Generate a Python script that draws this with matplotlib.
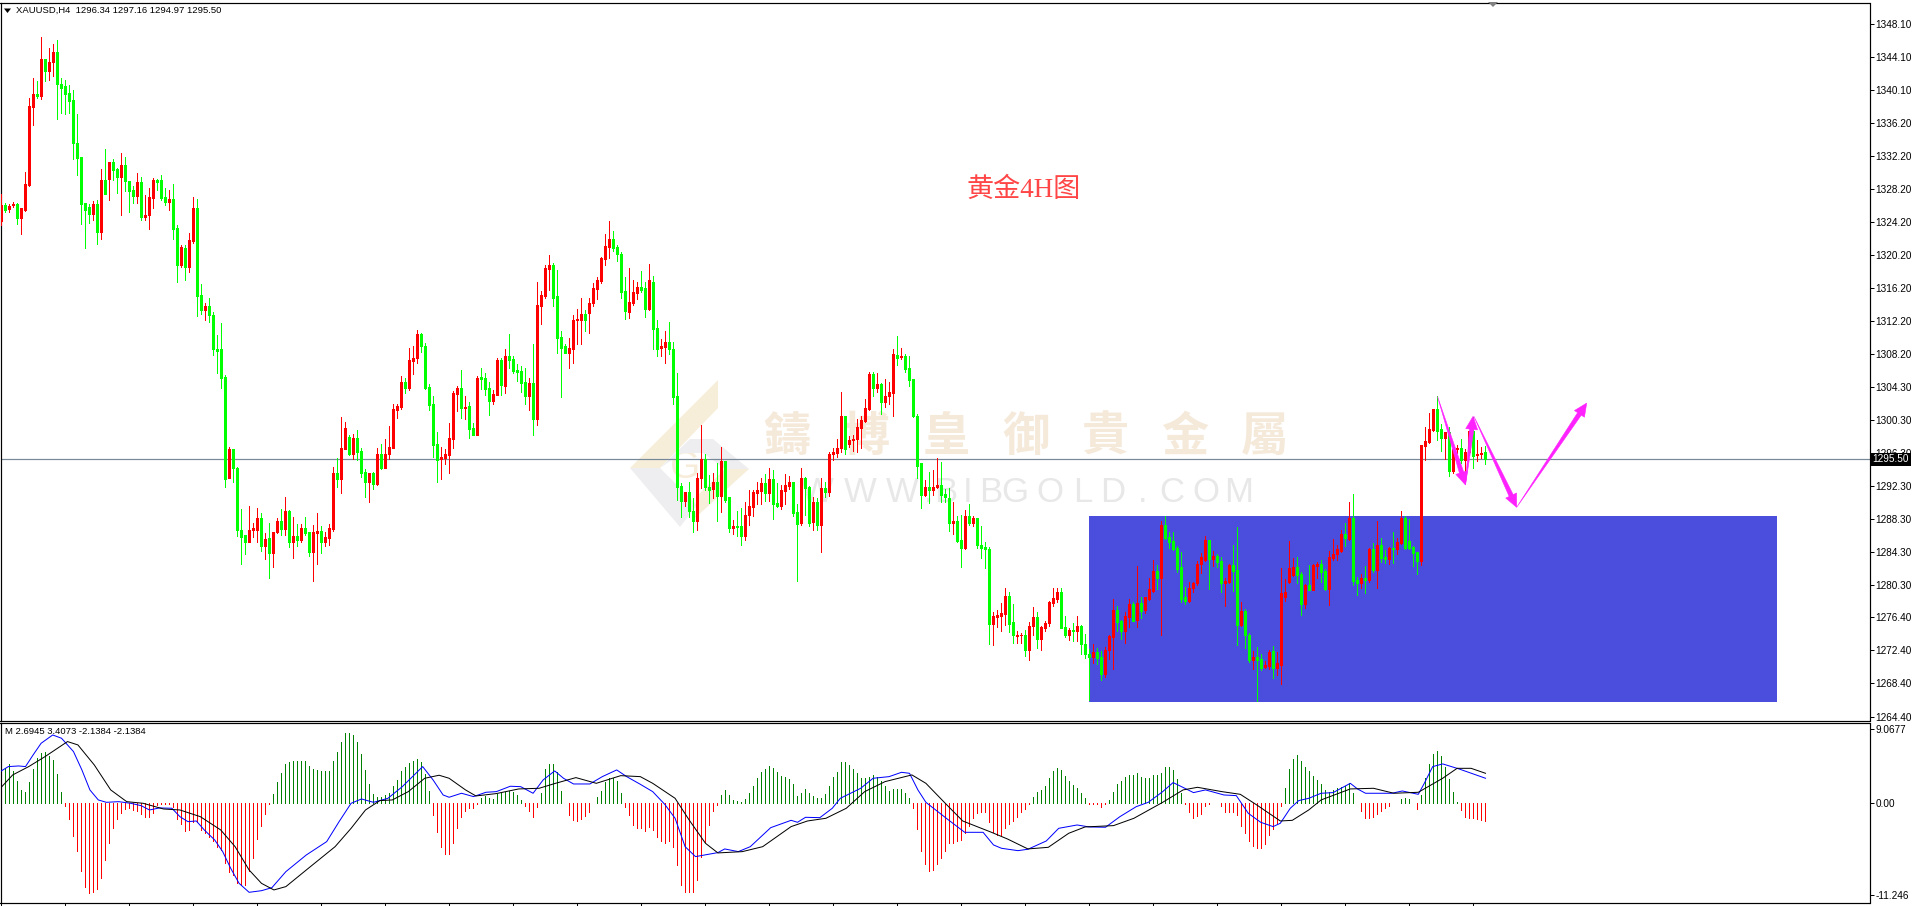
import matplotlib
matplotlib.use('Agg')
import matplotlib.pyplot as plt
from matplotlib.patches import Polygon, Rectangle
from matplotlib.transforms import IdentityTransform
import numpy as np

W, H = 1916, 906

# XAUUSD H4, values
opens = [
    1324.3, 1326.2, 1325.8, 1326.2, 1326.4, 1324.7, 1325.7, 1328.7, 1338.1, 1339.7,
    1339.4, 1343.9, 1342.4, 1343.5, 1344.7, 1340.9, 1340.6, 1339.8, 1338.9, 1333.8,
    1332.0, 1326.5, 1326.0, 1325.2, 1326.4, 1323.0, 1329.3, 1329.4, 1331.4, 1330.6,
    1329.6, 1331.1, 1329.2, 1328.1, 1327.4, 1329.0, 1324.8, 1325.0, 1327.1, 1329.3,
    1329.3, 1327.2, 1326.6, 1327.0, 1323.5, 1319.0, 1321.1, 1318.8, 1321.9, 1325.9,
    1315.4, 1313.5, 1314.1, 1313.0, 1308.9, 1308.8, 1305.4, 1293.3, 1296.8, 1294.5,
    1287.0, 1286.3, 1285.5, 1287.0, 1287.0, 1288.4, 1285.0, 1286.0, 1284.2, 1286.7,
    1288.0, 1287.1, 1289.2, 1285.5, 1286.2, 1285.8, 1287.2, 1286.7, 1284.3, 1286.6,
    1286.8, 1285.5, 1286.0, 1287.1, 1293.8, 1293.1, 1296.8, 1298.2, 1296.2, 1298.1,
    1296.5, 1294.0, 1292.8, 1293.8, 1292.5, 1296.2, 1294.5, 1296.1, 1296.9, 1301.5,
    1301.8, 1304.8, 1304.1, 1307.4, 1307.7, 1310.6, 1309.2, 1304.2, 1302.2, 1297.3,
    1295.5, 1295.7, 1296.0, 1298.0, 1303.4, 1304.1, 1301.7, 1301.9, 1299.3, 1298.5,
    1305.4, 1305.3, 1304.1, 1302.6, 1303.3, 1307.5, 1304.4, 1308.0, 1307.6, 1306.3,
    1306.2, 1304.8, 1303.2, 1304.7, 1300.4, 1314.1, 1315.3, 1318.5, 1319.0, 1315.2,
    1310.3, 1309.2, 1308.3, 1308.9, 1312.4, 1312.4, 1313.1, 1313.2, 1314.4, 1316.1,
    1317.1, 1319.7, 1321.2, 1322.1, 1321.2, 1320.3, 1315.8, 1313.3, 1314.4, 1315.6,
    1316.3, 1316.2, 1313.7, 1317.0, 1311.4, 1309.0, 1309.1, 1309.7, 1308.9, 1303.1,
    1292.3, 1290.5, 1291.5, 1289.3, 1288.0, 1293.2, 1295.5, 1292.1, 1291.9, 1292.7,
    1291.1, 1295.3, 1290.9, 1287.2, 1287.4, 1287.4, 1286.2, 1288.8, 1289.7, 1291.4,
    1291.7, 1292.6, 1291.4, 1293.1, 1290.2, 1289.9, 1291.7, 1292.3, 1292.7, 1289.1,
    1287.8, 1293.2, 1292.2, 1287.9, 1290.3, 1287.5, 1292.0, 1291.5, 1296.1, 1296.3,
    1296.9, 1300.8, 1297.4, 1297.8, 1297.9, 1299.3, 1300.1, 1301.6, 1305.8, 1304.1,
    1304.6, 1302.4, 1303.2, 1303.5, 1308.1, 1307.9, 1308.0, 1306.5, 1305.2, 1300.8,
    1295.0, 1291.2, 1292.2, 1291.8, 1292.1, 1292.4, 1291.3, 1290.8, 1287.8, 1288.1,
    1285.7, 1284.8, 1288.6, 1287.8, 1288.4, 1285.2, 1284.9, 1284.6, 1275.6, 1276.4,
    1276.6, 1276.8, 1279.0, 1275.8, 1274.1, 1274.2, 1274.3, 1272.5, 1275.3, 1276.4,
    1273.8, 1275.1, 1275.7, 1278.1, 1278.6, 1279.4, 1275.2, 1274.3, 1274.9, 1274.7,
    1275.3, 1273.2, 1272.0, 1271.6, 1272.2, 1271.6, 1269.6, 1272.4, 1274.0, 1277.3,
    1275.9, 1274.7, 1276.4, 1278.0, 1276.1, 1278.1, 1277.3, 1278.6, 1279.6, 1282.0,
    1281.2, 1287.5, 1286.1, 1285.6, 1284.8, 1282.5, 1278.9, 1278.4, 1279.9, 1280.5,
    1282.8, 1283.3, 1285.8, 1283.4, 1283.8, 1283.2, 1280.6, 1280.7, 1282.7, 1282.1,
    1275.5, 1277.2, 1274.3, 1271.2, 1271.6, 1271.4, 1270.4, 1270.5, 1272.3, 1270.3,
    1270.6, 1278.8, 1280.7, 1281.5, 1282.5, 1281.6, 1278.0, 1280.3, 1279.7, 1282.6,
    1282.8, 1282.0, 1279.8, 1283.6, 1284.0, 1284.4, 1286.5, 1285.9, 1288.4, 1280.9,
    1280.5, 1281.1, 1280.9, 1284.7, 1282.1, 1285.1, 1283.7, 1283.4, 1284.8, 1284.6,
    1285.4, 1288.4, 1285.6, 1284.9, 1284.3, 1283.2, 1297.1, 1297.6, 1299.1, 1301.6,
    1299.2, 1298.1, 1298.8, 1294.1, 1296.7, 1296.9, 1295.4, 1296.4, 1298.9, 1296.0,
    1296.1, 1296.34,
]
highs = [
    1327.6, 1326.5, 1326.4, 1326.6, 1326.5, 1325.9, 1330.3, 1339.2, 1341.6, 1341.2,
    1346.6, 1343.9, 1345.2, 1345.7, 1346.2, 1341.6, 1341.4, 1340.8, 1340.2, 1337.2,
    1332.0, 1326.5, 1326.4, 1326.7, 1326.8, 1330.6, 1333.0, 1331.4, 1331.8, 1330.7,
    1332.5, 1332.0, 1329.2, 1328.6, 1330.1, 1329.6, 1327.5, 1328.3, 1329.5, 1329.4,
    1329.9, 1328.3, 1328.1, 1328.8, 1323.8, 1321.4, 1321.4, 1322.9, 1327.2, 1327.0,
    1316.7, 1314.4, 1315.0, 1313.3, 1310.5, 1312.0, 1305.7, 1297.0, 1296.8, 1294.6,
    1289.5, 1286.3, 1289.8, 1287.8, 1289.6, 1289.0, 1286.6, 1287.8, 1286.7, 1288.4,
    1289.5, 1290.9, 1289.4, 1288.5, 1287.7, 1287.7, 1288.5, 1286.7, 1287.6, 1289.0,
    1287.4, 1286.7, 1287.7, 1294.6, 1295.7, 1300.6, 1300.0, 1298.4, 1298.6, 1299.0,
    1296.9, 1294.3, 1293.8, 1294.0, 1296.9, 1297.4, 1297.9, 1299.5, 1302.2, 1302.2,
    1305.6, 1305.3, 1309.0, 1309.2, 1311.1, 1310.8, 1309.6, 1304.6, 1303.2, 1298.8,
    1297.0, 1296.7, 1299.9, 1303.8, 1304.4, 1306.3, 1303.2, 1302.4, 1299.9, 1305.6,
    1306.6, 1305.9, 1304.8, 1303.9, 1307.7, 1307.7, 1308.8, 1310.7, 1308.0, 1307.0,
    1306.8, 1306.5, 1305.3, 1309.5, 1317.0, 1315.8, 1319.0, 1320.2, 1319.3, 1318.4,
    1311.0, 1309.5, 1310.2, 1312.9, 1313.7, 1315.0, 1313.5, 1315.0, 1316.8, 1317.6,
    1320.0, 1322.8, 1324.3, 1323.1, 1321.4, 1320.6, 1317.5, 1318.6, 1317.2, 1317.0,
    1318.3, 1317.0, 1319.1, 1317.7, 1312.4, 1310.1, 1311.0, 1312.1, 1309.7, 1305.9,
    1292.6, 1291.6, 1292.7, 1290.8, 1293.8, 1299.7, 1296.2, 1293.6, 1293.9, 1295.0,
    1297.0, 1295.3, 1290.9, 1288.2, 1289.2, 1289.6, 1290.4, 1291.8, 1291.8, 1292.8,
    1293.3, 1293.7, 1294.5, 1294.2, 1292.6, 1292.4, 1293.7, 1293.5, 1292.7, 1290.1,
    1294.4, 1293.4, 1292.3, 1290.9, 1290.8, 1293.2, 1292.8, 1296.4, 1296.9, 1298.0,
    1303.6, 1300.8, 1298.3, 1298.4, 1300.4, 1300.7, 1302.8, 1306.0, 1306.0, 1305.9,
    1304.7, 1305.2, 1304.8, 1308.9, 1310.4, 1309.0, 1308.2, 1308.0, 1305.2, 1301.0,
    1295.0, 1293.0, 1294.0, 1294.2, 1295.7, 1295.2, 1291.9, 1292.0, 1290.4, 1288.7,
    1288.8, 1289.4, 1290.1, 1288.7, 1288.4, 1287.4, 1285.5, 1284.9, 1277.1, 1277.3,
    1278.1, 1279.9, 1279.4, 1278.0, 1274.8, 1274.5, 1274.9, 1275.8, 1277.7, 1277.1,
    1275.4, 1275.9, 1278.4, 1279.9, 1279.9, 1279.9, 1276.5, 1275.1, 1275.7, 1276.6,
    1275.5, 1274.4, 1272.6, 1273.2, 1272.7, 1272.3, 1272.8, 1274.3, 1278.6, 1277.8,
    1276.1, 1277.0, 1278.6, 1278.2, 1282.6, 1278.8, 1278.9, 1281.1, 1283.3, 1282.7,
    1288.1, 1288.7, 1286.7, 1286.7, 1285.0, 1284.3, 1280.1, 1280.7, 1280.7, 1283.2,
    1284.2, 1286.2, 1285.8, 1284.4, 1284.0, 1283.7, 1281.2, 1282.9, 1285.2, 1287.3,
    1278.2, 1277.4, 1274.5, 1272.3, 1272.8, 1272.0, 1271.1, 1272.4, 1272.9, 1272.2,
    1282.4, 1281.0, 1285.6, 1283.6, 1283.7, 1281.9, 1280.4, 1282.7, 1282.8, 1283.1,
    1283.3, 1282.2, 1284.4, 1285.9, 1285.1, 1287.0, 1287.8, 1290.3, 1291.3, 1281.3,
    1281.6, 1282.6, 1284.8, 1285.4, 1288.0, 1286.0, 1284.5, 1284.9, 1286.7, 1286.0,
    1289.2, 1288.6, 1288.3, 1285.0, 1284.3, 1297.2, 1299.4, 1301.1, 1301.6, 1303.2,
    1299.8, 1298.8, 1299.4, 1296.7, 1297.2, 1298.0, 1296.7, 1298.9, 1300.6, 1297.8,
    1297.0, 1297.16,
]
lows = [
    1323.8, 1325.4, 1325.4, 1326.0, 1324.0, 1322.8, 1325.5, 1328.5, 1335.9, 1339.2,
    1339.1, 1341.2, 1341.4, 1341.9, 1336.7, 1337.4, 1337.3, 1337.4, 1331.8, 1329.9,
    1324.0, 1321.1, 1324.1, 1324.4, 1321.5, 1322.1, 1327.6, 1326.8, 1329.3, 1327.7,
    1325.1, 1328.0, 1325.4, 1326.5, 1326.5, 1324.5, 1324.5, 1323.4, 1325.9, 1328.1,
    1326.9, 1326.3, 1325.6, 1322.1, 1316.9, 1318.8, 1317.2, 1318.1, 1321.7, 1312.8,
    1313.1, 1312.4, 1312.1, 1308.1, 1305.9, 1304.1, 1292.1, 1293.3, 1292.8, 1286.2,
    1282.8, 1284.0, 1285.5, 1286.1, 1285.5, 1284.4, 1283.5, 1281.2, 1282.5, 1286.6,
    1286.4, 1286.4, 1284.9, 1283.6, 1285.0, 1285.5, 1286.4, 1283.8, 1280.8, 1282.8,
    1284.2, 1285.0, 1285.2, 1286.8, 1292.2, 1291.4, 1296.8, 1296.0, 1295.6, 1295.4,
    1293.4, 1290.9, 1290.4, 1291.9, 1292.4, 1294.3, 1294.4, 1295.5, 1296.9, 1300.5,
    1301.6, 1303.5, 1303.9, 1305.8, 1307.1, 1308.5, 1304.0, 1301.5, 1295.8, 1292.7,
    1293.1, 1294.9, 1293.9, 1296.9, 1301.4, 1300.5, 1300.4, 1298.1, 1298.4, 1298.4,
    1304.0, 1303.3, 1300.9, 1302.2, 1303.3, 1303.3, 1303.5, 1306.6, 1305.9, 1305.0,
    1303.6, 1302.2, 1301.5, 1298.5, 1299.6, 1311.9, 1315.0, 1316.0, 1314.1, 1308.4,
    1303.0, 1308.3, 1306.6, 1307.1, 1309.5, 1309.5, 1311.0, 1310.8, 1314.1, 1314.9,
    1316.8, 1319.0, 1319.9, 1320.7, 1319.5, 1315.0, 1312.5, 1312.6, 1314.2, 1314.9,
    1315.7, 1312.7, 1313.5, 1308.8, 1308.0, 1308.0, 1307.1, 1308.2, 1302.2, 1290.6,
    1288.5, 1289.9, 1288.5, 1286.7, 1287.0, 1292.0, 1291.8, 1290.2, 1290.8, 1288.1,
    1289.1, 1290.4, 1286.7, 1286.5, 1286.2, 1285.2, 1285.8, 1287.5, 1288.7, 1290.1,
    1290.1, 1290.5, 1290.5, 1288.3, 1289.7, 1289.5, 1290.1, 1291.9, 1288.6, 1280.8,
    1287.5, 1288.8, 1287.4, 1287.0, 1287.0, 1284.3, 1291.0, 1291.1, 1295.4, 1295.8,
    1296.4, 1296.2, 1297.0, 1296.5, 1296.4, 1296.9, 1300.0, 1301.5, 1303.1, 1303.7,
    1301.0, 1301.8, 1302.2, 1300.7, 1306.9, 1307.6, 1306.0, 1304.4, 1300.6, 1293.2,
    1289.6, 1291.1, 1290.2, 1291.2, 1292.0, 1290.4, 1290.3, 1286.8, 1286.5, 1285.5,
    1282.5, 1284.6, 1287.5, 1287.4, 1284.8, 1283.6, 1282.4, 1273.2, 1273.0, 1275.2,
    1274.8, 1275.5, 1274.6, 1273.3, 1273.3, 1273.3, 1271.7, 1271.2, 1274.2, 1272.7,
    1272.5, 1274.8, 1275.4, 1277.8, 1278.3, 1275.1, 1274.0, 1273.7, 1273.5, 1273.5,
    1272.0, 1271.5, 1266.4, 1270.9, 1270.8, 1268.8, 1269.2, 1271.3, 1270.2, 1274.8,
    1273.8, 1273.3, 1275.2, 1275.9, 1275.2, 1276.3, 1276.9, 1278.5, 1279.4, 1279.8,
    1274.3, 1285.9, 1284.8, 1284.5, 1281.9, 1278.3, 1278.0, 1278.2, 1279.5, 1280.3,
    1281.8, 1283.2, 1279.8, 1282.6, 1282.5, 1279.4, 1277.8, 1280.5, 1279.6, 1273.0,
    1275.4, 1272.7, 1271.0, 1270.2, 1266.3, 1270.0, 1270.3, 1270.2, 1269.1, 1269.4,
    1268.3, 1278.4, 1280.5, 1281.4, 1280.5, 1276.7, 1277.5, 1279.7, 1279.7, 1281.1,
    1280.7, 1279.7, 1277.9, 1283.3, 1283.3, 1284.3, 1285.0, 1285.7, 1280.3, 1279.1,
    1279.9, 1279.3, 1280.7, 1281.9, 1279.9, 1283.1, 1283.0, 1282.8, 1283.0, 1284.0,
    1285.3, 1284.7, 1284.7, 1282.6, 1281.6, 1282.7, 1295.4, 1297.5, 1298.9, 1297.8,
    1296.5, 1295.5, 1293.5, 1293.8, 1296.3, 1295.1, 1292.9, 1296.0, 1294.5, 1295.3,
    1295.7, 1294.97,
]
closes = [
    1326.2, 1325.7, 1326.1, 1326.4, 1324.7, 1325.9, 1328.8, 1338.2, 1339.7, 1339.4,
    1343.9, 1342.4, 1343.6, 1344.7, 1340.9, 1340.4, 1339.7, 1338.8, 1333.7, 1331.9,
    1326.4, 1325.7, 1325.2, 1326.4, 1323.0, 1329.3, 1327.6, 1331.4, 1330.5, 1329.6,
    1331.1, 1329.2, 1328.0, 1327.4, 1329.0, 1324.8, 1325.1, 1327.2, 1329.3, 1329.0,
    1327.1, 1326.6, 1327.0, 1323.4, 1319.0, 1321.2, 1318.8, 1322.0, 1325.9, 1315.3,
    1313.6, 1314.1, 1313.0, 1308.8, 1308.6, 1305.3, 1293.1, 1296.8, 1294.4, 1287.0,
    1286.1, 1285.5, 1287.0, 1287.2, 1288.4, 1285.0, 1285.9, 1284.2, 1286.7, 1288.0,
    1287.1, 1289.2, 1285.5, 1286.2, 1285.8, 1287.2, 1286.6, 1284.3, 1286.7, 1286.8,
    1285.5, 1286.1, 1287.2, 1293.8, 1293.1, 1296.9, 1299.3, 1296.1, 1298.1, 1296.4,
    1293.9, 1292.8, 1293.8, 1292.5, 1296.2, 1294.4, 1296.2, 1297.0, 1301.6, 1302.0,
    1304.8, 1304.1, 1307.5, 1307.8, 1310.6, 1309.2, 1304.1, 1302.1, 1297.2, 1295.4,
    1295.8, 1296.1, 1298.1, 1303.5, 1304.1, 1301.7, 1301.8, 1299.2, 1298.5, 1305.3,
    1305.2, 1304.0, 1302.6, 1303.4, 1307.5, 1304.5, 1308.0, 1307.5, 1306.2, 1306.0,
    1304.7, 1303.2, 1304.7, 1300.4, 1314.2, 1315.4, 1318.6, 1319.0, 1315.0, 1310.2,
    1309.0, 1308.3, 1309.0, 1312.4, 1312.5, 1313.1, 1312.4, 1314.4, 1316.2, 1317.2,
    1319.8, 1321.3, 1322.1, 1321.1, 1320.3, 1315.7, 1313.4, 1314.5, 1315.7, 1316.3,
    1316.0, 1313.7, 1317.2, 1311.3, 1308.9, 1309.2, 1309.7, 1308.8, 1303.0, 1292.2,
    1290.5, 1291.5, 1289.2, 1288.0, 1293.2, 1295.5, 1292.2, 1291.8, 1292.7, 1291.1,
    1295.3, 1290.6, 1287.2, 1287.4, 1287.3, 1286.2, 1288.8, 1289.8, 1291.5, 1291.8,
    1292.6, 1291.4, 1293.1, 1290.1, 1289.8, 1291.8, 1292.4, 1292.8, 1289.0, 1287.7,
    1293.2, 1292.0, 1287.8, 1290.3, 1287.5, 1292.0, 1291.5, 1296.2, 1296.4, 1296.9,
    1300.8, 1296.8, 1297.8, 1298.0, 1299.4, 1300.2, 1301.7, 1305.8, 1304.1, 1304.6,
    1302.4, 1303.2, 1303.6, 1308.2, 1307.8, 1308.0, 1306.4, 1305.1, 1300.7, 1294.7,
    1291.2, 1292.2, 1291.8, 1292.2, 1292.4, 1291.2, 1290.9, 1287.8, 1288.1, 1285.6,
    1284.8, 1288.6, 1287.8, 1288.4, 1285.1, 1284.8, 1284.6, 1275.6, 1276.5, 1276.7,
    1276.9, 1279.0, 1275.6, 1274.2, 1274.3, 1274.3, 1272.5, 1275.4, 1276.4, 1273.8,
    1275.2, 1275.7, 1278.2, 1278.7, 1279.4, 1275.1, 1274.2, 1274.9, 1274.7, 1275.3,
    1273.2, 1272.0, 1271.6, 1272.2, 1271.5, 1269.6, 1272.5, 1274.1, 1277.3, 1275.8,
    1274.7, 1276.5, 1278.0, 1276.0, 1278.1, 1277.2, 1278.9, 1279.8, 1282.0, 1281.2,
    1287.5, 1286.0, 1285.5, 1284.6, 1282.2, 1278.6, 1278.4, 1280.0, 1280.6, 1282.9,
    1283.7, 1285.8, 1283.4, 1283.8, 1283.1, 1280.5, 1280.8, 1282.7, 1282.0, 1275.5,
    1277.2, 1274.2, 1271.2, 1271.6, 1271.2, 1270.3, 1270.6, 1272.2, 1270.3, 1270.9,
    1279.3, 1279.4, 1282.4, 1282.5, 1281.5, 1278.0, 1280.3, 1279.7, 1282.7, 1282.8,
    1281.9, 1279.8, 1283.7, 1284.1, 1284.7, 1286.5, 1286.0, 1288.4, 1280.8, 1280.5,
    1281.1, 1280.9, 1284.7, 1282.1, 1285.1, 1283.6, 1283.4, 1284.8, 1284.6, 1285.5,
    1288.4, 1284.8, 1284.8, 1284.2, 1283.2, 1297.2, 1297.7, 1299.2, 1301.6, 1298.9,
    1298.1, 1298.8, 1294.1, 1296.7, 1296.9, 1295.4, 1296.4, 1298.9, 1295.9, 1296.2,
    1296.3, 1295.50,
]

price_ticks = [1348.10, 1344.10, 1340.10, 1336.20, 1332.20, 1328.20, 1324.20, 1320.20, 1316.20, 1312.20, 1308.20,
               1304.30, 1300.30, 1296.30, 1292.30, 1288.30, 1284.30, 1280.30, 1276.40, 1272.40, 1268.40, 1264.40]
last_price = 1295.50

# macd histogram, one value per bar
hist = [
    5.81, 4.29, 4.79, 3.97, 2.74, 1.64, 1.35, 2.66, 4.21, 5.52, 6.22, 6.34, 5.85, 5.32, 3.56, 1.35,
    -0.29, -1.92, -3.97, -5.81, -8.26, -10.22, -10.96, -10.84, -10.51, -9.12, -6.95, -4.91, -2.99, -1.92,
    -1.15, -0.7, -0.61, -0.82, -0.94, -1.31, -1.64, -1.64, -1.23, -0.2, -0.12, -0.05, -0.05, -0.41, -1.92,
    -2.58, -3.35, -3.27, -2.25, -2.25, -3.27, -3.68, -4.09, -4.62, -5.32, -5.73, -7.28, -8.38, -8.79, -9.82,
    -10.02, -10.02, -8.3, -6.75, -4.38, -2.74, -1.31, -0.08,
    1.1, 2.66, 3.68, 4.79, 5.11, 5.19, 5.19, 5.19, 5.19, 4.58, 4.21, 4.09, 3.97, 3.97, 3.97, 5.19, 6.34,
    7.48, 8.63, 8.63, 8.38, 7.48, 6.01, 4.09, 2.33, 1.1, 0.82, 0.82, 1.02, 1.23, 2.13, 2.86, 3.97, 4.5,
    4.91, 5.19, 5.44, 5.03, 3.56, 1.51,
    -1.43, -3.48, -5.32, -6.22, -6.22, -4.83, -3.07, -1.64, -0.94, -0.61, -0.61, -0.12,
    0.7, 0.9, 0.7, 0.53, 1.1, 1.23, 1.35, 1.51, 1.43, 1.02, 0.41,
    -0.29, -0.94, -1.64, -0.41,
    1.31, 4.17, 4.79, 4.79, 3.8, 1.51, 0.0,
    -1.43, -2.04, -2.13, -1.92, -1.55, -1.02, 0.0,
    0.82, 1.51, 2.66, 3.07, 3.07, 2.74, 1.31,
    -0.41, -1.43, -2.66, -2.99,
    -3.07, -3.35, -2.86, -3.27, -4.09, -4.58, -4.91, -4.62, -5.32, -7.57, -10.02, -10.84, -10.92, -10.84,
    -9.41, -6.54, -4.7, -2.66, -0.94, -0.2,
    1.02, 1.64, 1.02, 0.41, 0.29, 0.12, 0.53, 1.27, 2.13, 3.15, 3.8, 4.21, 4.58, 4.29, 3.8, 3.39, 3.19, 2.94,
    2.37, 0.9, 1.31, 1.76, 1.31, 0.9, 0.61, 0.61, 1.15, 2.17, 3.27, 3.89, 5.07, 5.07, 4.7, 4.21, 3.76, 3.07,
    3.07, 3.27, 3.48, 3.27, 2.74, 2.17, 1.55, 1.76, 1.76, 1.76, 1.23, 0.7,
    -0.61, -3.15, -5.85, -7.44, -8.26, -8.18, -7.44, -6.67, -5.85, -4.91, -4.83, -4.62, -4.5, -3.68, -2.74,
    -1.84, -1.23, -1.02, -1.02, -2.33, -3.48, -3.89, -3.89, -2.99, -2.54, -2.17, -1.64, -1.02, -0.7, -0.05,
    0.82, 1.35, 1.64, 2.17, 3.07, 3.97, 4.29, 4.09, 3.35, 2.74, 2.25, 1.84, 1.27, 0.65,
    -0.05, -0.05, -0.08, -0.41, -0.12,
    0.41, 1.35, 2.33, 2.74, 3.27, 3.48, 3.48, 3.68, 3.27, 3.15, 3.15, 3.48, 3.48, 3.68, 4.46, 4.46, 4.09, 2.99, 1.23,
    -0.12, -1.1, -1.76, -1.55, -1.31, -0.29, -0.05, 0.08, 0.08,
    -0.29, -1.1, -1.1, -1.1, -1.43, -2.74, -3.64, -4.62, -5.19, -5.52, -5.44, -5.03, -3.89, -3.15, -2.45,
    -0.29,
    1.92, 4.21, 5.44, 5.93, 5.19, 4.5, 3.97, 3.35, 2.86, 2.37, 1.64, 1.35, 1.64, 1.84, 2.04, 2.17, 2.45, 1.23, 0.04,
    -0.94, -1.76, -1.76, -1.64, -1.31, -0.9, -0.61, -0.29,
    0.04, 0.04, 0.53, 0.61, 0.53, 0.0,
    -0.7,
    1.02, 3.07, 4.79, 6.01, 6.42, 5.81, 4.5, 2.99, 1.35, 0.12,
    -0.82, -1.72, -1.76, -1.84, -1.96, -2.04, -2.14,
]

# blue and black macd lines, read at the bends
blue_idx = [-0.3, 1.7, 4.3, 6, 7.9, 9.9, 12.8, 15, 18, 20.1, 22.1, 24.2, 26.2, 29.3, 32.3, 34.9, 37, 39.5, 42.6, 44.6,
            46.6, 48.7, 50.7, 53.3, 55.3, 57.3, 59.4, 61.9, 65, 67.6, 71.1, 76.2, 81.3, 84.4, 87.4, 90, 93, 96.6,
            100.2, 105.3, 107.9, 110.4, 111.9, 115, 118, 121.1, 123.7, 127.2, 129.8, 132.9, 135.4, 138.3, 140.5,
            143, 147.1, 150.2, 153.8, 156.3, 159.7, 162.8, 165.8, 168.4, 170.9, 173.5, 179.1, 180.8, 184.2, 187.2,
            192.3, 197.4, 199, 201, 204.6, 207.7, 209.7, 214.8, 217.9, 221.9, 225, 227, 229.1, 231.1, 236.2, 240.8,
            245.4, 248, 250, 254.1, 256.6, 261.2, 264.3, 268.9, 271.9, 276, 279.6, 283.7, 286.7, 290.3, 292.9, 295,
            298, 301, 305.6, 308.7, 311.7, 314.8, 317.9, 319.7, 322.2, 324.3, 326.8, 329.9, 332.9, 337.2, 339, 341,
            347.6, 350.2, 354.2, 355.7, 357.8, 360.3, 364.4, 371]
blue_val = [3.89, 4.5, 4.58, 4.5, 5.93, 7.36, 8.38, 7.98, 6.34, 4.09, 1.64, 0.41, 0.12, 0.2, 0, -0.29, -0.82, -0.57,
            -0.61, -1.64, -2.25, -2.17, -3.27, -4.5, -5.93, -7.98, -9.82, -10.92, -10.72, -10.35, -8.38, -6.34, -4.7,
            -2.25, 0, 0.53, 0.12, 0.61, 2.04, 4.5, 2.86, 1.02, 0.74, 1.23, 0.82, 1.35, 1.43, 2.09, 2.04, 1.23, 2.86,
            3.97, 3.07, 2.37, 2.37, 3.27, 4.09, 3.27, 2.33, 1.43, -0.12, -1.84, -5.32, -6.54, -6.05, -5.6, -5.93,
            -5.32, -2.99, -2.09, -2.33, -1.72, -1.76, -0.61, 0.61, 1.84, 3.07, 3.27, 3.8, 3.68, 1.64, 0.12, -1.84,
            -3.56, -3.56, -5.11, -5.52, -5.81, -5.64, -4.62, -3.07, -2.66, -2.9, -2.94, -1.64, -0.41, 0.12, 1.43,
            2.54, 2.04, 1.31, 1.64, 1.02, 0.94, -1.23, -2.33, -2.86, -2.45, -0.61, 0.33, 0.61, 1.23, 1.31, 2.45,
            1.76, 1.23, 1.23, 1.51, 1.1, 2.45, 4.5, 4.83, 4.21, 3.07]
black_idx = [-0.3, 2.8, 6.8, 10.9, 16.5, 19.1, 23.2, 27.3, 31.3, 35.4, 40.5, 44.6, 49.7, 54.8, 58.4, 61.9, 65, 68.1,
             71.1, 76.2, 83.4, 87.4, 91, 94.6, 97.7, 101.7, 105.8, 109.4, 111.9, 116, 118.6, 123.7, 129.3, 134.4,
             138.5, 143.6, 148.7, 154.8, 159.7, 162.8, 168.4, 171.9, 176, 179.1, 185.2, 190.3, 197.4, 201.5, 206.1,
             211.2, 215.8, 220.9, 227.6, 231.1, 235.7, 240.3, 247.5, 251.5, 256.6, 261.7, 266.8, 270.9, 278, 283.1,
             290.3, 295.4, 299, 305.1, 309.7, 313.8, 319.7, 322.7, 326.8, 329.9, 337.2, 343, 348.1, 354.2, 360.3,
             363.9, 367.4, 371]
black_val = [1.84, 3.48, 4.5, 5.73, 7.57, 7.16, 4.7, 1.64, 0.2, 0, -0.7, -0.82, -1.64, -3.27, -5.32, -8.18, -9.82,
             -10.63, -10.22, -8.18, -5.32, -3.07, -0.82, 0.33, 0.41, 1.43, 3.07, 3.44, 3.07, 1.64, 0.9, 1.19, 1.76,
             1.84, 2.45, 3.15, 2.45, 3.39, 3.27, 2.45, 0.61, -2.04, -4.91, -6.09, -5.93, -5.32, -2.86, -2.17, -1.84,
             -0.61, 1.43, 2.66, 3.48, 2.45, 0.12, -2.17, -3.56, -4.38, -5.6, -5.4, -3.68, -2.9, -2.74, -1.84, 0.12,
             1.64, 1.96, 1.43, 1.1, -0.2, -2.17, -2.09, -0.82, 0.41, 1.76, 1.84, 1.23, 1.35, 3.07, 4.29, 4.29, 3.68]

# drawn on top of the chart: box and the forecast arrows
zone_idx = [271.9, 443.9]
zone_price = [1266.2, 1288.65]
arrow_idx = [(359, 366), (366, 367.9), (368.1, 378.8), (378.8, 396.3)]
arrow_price = [(1303.1, 1292.4), (1292.4, 1300.7), (1300.7, 1289.7), (1289.7, 1302.3)]

watermark_cn = '鑄博皇御貴金屬'
watermark_en = 'WWW.BIBGOLD.COM'

RED = '#ff0000'
GREEN = '#00ff00'
PX = 0.72

plt.rcParams['font.family'] = ['Liberation Sans', 'DejaVu Sans']
fig = plt.figure(figsize=(W / 100, H / 100), dpi=100, facecolor='white')


def px_rect(x0, y0, x1, y1):
    return [x0 / W, 1 - y1 / H, (x1 - x0) / W, (y1 - y0) / H]


def p(x, y):
    # screen pixels to display coords
    return (x, H - y)


ax = fig.add_axes(px_rect(0.5, 2.5, 1869.5, 720.5))
ax2 = fig.add_axes(px_rect(0.5, 722.5, 1869.5, 902.5))
for a in (ax, ax2):
    a.set_xlim(-0.25, 467)
    for s in a.spines.values():
        s.set_linewidth(PX * 1.2)
        s.set_color('black')
    a.yaxis.tick_right()
ax.set_ylim(1263.92, 1350.74)
ax2.set_ylim(-12.17, 9.91)

ax.set_xticks([])
ax.set_yticks(price_ticks)
ax.set_yticklabels(['%.2f' % t for t in price_ticks])
ax.tick_params(axis='y', length=3, width=PX, pad=1.2, labelsize=7.2)

# watermark sits under everything, so the axes background goes transparent
tan = '#f5e9da'
pale = '#e8e8e8'
ax.patch.set_alpha(0)
for pts, col in [
    ([(718, 380), (718, 408), (660, 468), (630, 468)], '#f7eeda'),
    ([(660, 468), (690, 439), (713, 439), (749, 469), (725, 469), (703, 453), (682, 453)], '#eeeef0'),
    ([(630, 468), (660, 468), (697, 505), (680, 527)], '#eeeef0'),
    ([(749, 469), (725, 469), (698, 495), (695, 518)], '#f7eeda'),
]:
    ax.add_patch(Polygon([p(*q) for q in pts], closed=True, transform=IdentityTransform(),
                         facecolor=col, edgecolor='none', zorder=0.5))
fig.text(685 / W, 1 - 468 / H, 'G', fontsize=28, color='#f7ecd9', ha='center', va='center', zorder=-1)
for i, ch in enumerate(watermark_cn):
    fig.text((787 + i * 79.5) / W, 1 - 437 / H, ch, family=['Noto Sans CJK TC', 'DejaVu Sans'], fontsize=34,
             fontweight='bold', color=tan, ha='center', va='center', zorder=-1)
en_x = [817, 860, 902, 929, 946, 968, 991, 1015, 1050, 1083, 1113, 1143, 1172, 1206, 1239]
for ch, x in zip(watermark_en, en_x):
    fig.text(x / W, 1 - 492 / H, ch, fontsize=25, color=pale, ha='center', va='center', zorder=-1)

ax.add_patch(Rectangle((zone_idx[0], zone_price[0]), zone_idx[1] - zone_idx[0], zone_price[1] - zone_price[0],
                       facecolor='#4b4edc', edgecolor='none', zorder=1))
ax.axhline(last_price, color='#778899', lw=PX * 1.2, zorder=2)

# candles
x = np.arange(len(closes))
cols = [RED if c >= o else GREEN for o, c in zip(opens, closes)]
ax.vlines(x, lows, highs, colors=cols, lw=PX, antialiased=False, zorder=3)
ax.bar(x, np.array(closes) - np.array(opens), bottom=opens, width=0.5, color=cols, edgecolor=cols,
       linewidth=PX, antialiased=False, zorder=3)


def arrow(i0, v0, i1, v1):
    # thin tail, widening shaft, triangle head
    a = ax.transData.transform((i0, v0))
    b = ax.transData.transform((i1, v1))
    d = b - a
    d = d / np.hypot(*d)
    n = np.array([-d[1], d[0]])
    neck = b - d * 13
    verts = [a, neck + n * 2.2, neck + n * 6, b, neck - n * 6, neck - n * 2.2]
    ax.add_patch(Polygon(verts, closed=True, transform=IdentityTransform(), facecolor='#ff22ff',
                         edgecolor='#ff22ff', linewidth=0.4, zorder=5))


for (i0, i1), (v0, v1) in zip(arrow_idx, arrow_price):
    arrow(i0, v0, i1, v1)

# head label and other MT4 furniture
fig.text(16 / W, 1 - 10.5 / H, 'XAUUSD,H4  1296.34 1297.16 1294.97 1295.50', fontsize=6.8, color='black',
         ha='left', va='center')
for pts, col in [([(4, 8.5), (11, 8.5), (7.5, 13)], 'black'), ([(1488, 2), (1498, 2), (1493, 7)], '#808080')]:
    ax.add_patch(Polygon([p(*q) for q in pts], closed=True, transform=IdentityTransform(), facecolor=col,
                         edgecolor='none', clip_on=False, zorder=6))
fig.text(1023.5 / W, 1 - 190.5 / H, '黄金4H图', family=['Liberation Serif', 'Noto Sans CJK SC'],
         fontsize=19.5, color='#ff4545', ha='center', va='center')

# price box on the right
ax.text(1.0017, last_price, '1295.50', transform=ax.get_yaxis_transform(), fontsize=7.2, color='white', ha='left',
        va='center', zorder=9,
        bbox=dict(boxstyle='square,pad=0.18', facecolor='black', edgecolor='black', linewidth=0))

# macd pane
ax2.set_xticks(np.arange(0, 372, 16))
ax2.set_xticklabels([])
ax2.tick_params(axis='x', length=3, width=PX)
ax2.set_yticks([9.0677, 0, -11.246])
ax2.set_yticklabels(['9.0677', '0.00', '-11.246'])
ax2.tick_params(axis='y', length=3, width=PX, pad=1.2, labelsize=7.2)
hist_cols = ['#008000' if h > 0 else RED for h in hist]
ax2.vlines(np.arange(len(hist)), 0, hist, colors=hist_cols, lw=PX, antialiased=False, zorder=2)
ax2.plot(blue_idx, blue_val, color='#0000ff', lw=0.72, zorder=3)
ax2.plot(black_idx, black_val, color='black', lw=0.72, zorder=4)
fig.text(5 / W, 1 - 731.5 / H, 'M 2.6945 3.4073 -2.1384 -2.1384', fontsize=6.8, color='black', ha='left', va='center')

fig.savefig('out.png', dpi=100)
